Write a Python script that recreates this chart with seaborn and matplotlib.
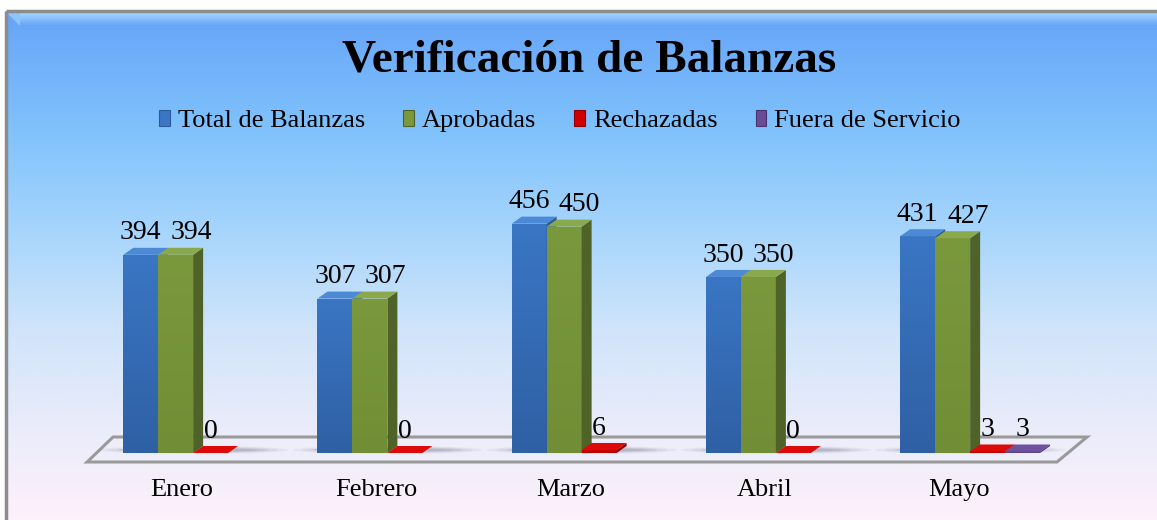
import numpy as np
import pandas as pd
import matplotlib
matplotlib.use("Agg")
import matplotlib.pyplot as plt
import seaborn as sns
from matplotlib.patches import Polygon, Rectangle, Patch, Ellipse
from matplotlib.colors import LinearSegmentedColormap

# datos del grafico
meses = ["Enero", "Febrero", "Marzo", "Abril", "Mayo"]
series = ["Total de Balanzas", "Aprobadas", "Rechazadas", "Fuera de Servicio"]
total = [394, 307, 456, 350, 431]
aprobadas = [394, 307, 450, 350, 427]
rechazadas = [0, 0, 6, 0, 3]
fuera_servicio = [None, None, None, None, 3]

# colores: cara frontal (arriba / abajo), lateral y superior
front = {"Total de Balanzas": "#3a76c4", "Aprobadas": "#7a983c",
         "Rechazadas": "#d00000", "Fuera de Servicio": "#6a4c94"}
front_low = {"Total de Balanzas": "#2f60a4", "Aprobadas": "#718e36",
             "Rechazadas": "#b80000", "Fuera de Servicio": "#5c4084"}
side = {"Total de Balanzas": "#2b5a96", "Aprobadas": "#4f6228",
        "Rechazadas": "#900000", "Fuera de Servicio": "#4a3470"}
top = {"Total de Balanzas": "#4c8ad6", "Aprobadas": "#8aa84c",
       "Rechazadas": "#dd0a0a", "Fuera de Servicio": "#6e52a0"}

SERIF = ["Liberation Serif", "DejaVu Serif"]

W, H = 1157, 520
fig = plt.figure(figsize=(W / 100, H / 100), dpi=100)
fig.patch.set_facecolor("white")

# fondo degradado con marco
bg = fig.add_axes([0, 0, 1, 1], zorder=0)
bg.set_xlim(0, W)
bg.set_ylim(H, 0)
bg.axis("off")
grad = LinearSegmentedColormap.from_list(
    "fondo",
    [(0.0, "#66a4f8"), (0.235, "#80c2fc"), (0.43, "#a6d5fc"),
     (0.625, "#d0e4fa"), (0.82, "#eaecfa"), (1.0, "#fdf1fb")])
bg.imshow(np.linspace(0, 1, 256).reshape(-1, 1), cmap=grad, aspect="auto",
          extent=(6, W, H, 11), zorder=0)
band = LinearSegmentedColormap.from_list("bisel", ["#a8d8fd", "#66a4f8"])
bg.imshow(np.linspace(0, 1, 64).reshape(-1, 1), cmap=band, aspect="auto",
          extent=(20, W, 26, 12), zorder=1)
bg.add_patch(Polygon([(6, 12), (20, 12), (20, 26)], closed=True,
                     facecolor="#8cc4fb", edgecolor="none", zorder=1))
bg.add_patch(Rectangle((6, 11), W, H, facecolor="none",
                       edgecolor="#8c8c8c", lw=2.5, zorder=2))

# eje principal (px -> fraccion de figura)
px_per_cat = 194.25
px_per_unit = 0.503
ymin, ymax = -40, 560
baseline_px = 453
ax_left = 96
ax_bottom = H - (baseline_px - ymin * px_per_unit)
ax_h = (ymax - ymin) * px_per_unit
ax = fig.add_axes([ax_left / W, ax_bottom / H, 5 * px_per_cat / W, ax_h / H], zorder=1)
ax.patch.set_alpha(0)

rows = []
for serie, vals in zip(series, [total, aprobadas, rechazadas, fuera_servicio]):
    for mes, v in zip(meses, vals):
        if v is not None:
            rows.append({"Mes": mes, "Serie": serie, "Valor": v})
df = pd.DataFrame(rows)

sns.barplot(data=df, x="Mes", y="Valor", hue="Serie", order=meses,
            hue_order=series, palette=front, saturation=1, width=0.72,
            errorbar=None, legend=False, ax=ax, zorder=3)

ax.set_xlim(-0.5, 4.5)
ax.set_ylim(ymin, ymax)

# profundidad 3D en unidades de datos
dx = 10 / px_per_cat
dy = 7 / px_per_unit

# piso
fy0, fy1 = -9 / px_per_unit, 16 / px_per_unit
floor = Polygon([(-0.546, fy0), (4.447, fy0), (4.602, fy1), (-0.412, fy1)],
                closed=True, facecolor="#eeeefa", edgecolor="#9a9a9a",
                lw=2.2, zorder=1, clip_on=False)
ax.add_patch(floor)

# sombras suaves bajo cada grupo
for i in range(len(meses)):
    for k, a in enumerate([0.05, 0.07, 0.09, 0.1]):
        ax.add_patch(Ellipse((i, 6), 0.98 - k * 0.1, 16 - k * 3,
                             facecolor="#303050", edgecolor="none", alpha=a,
                             zorder=2, clip_on=False))

label_dx = {"Total de Balanzas": 0, "Aprobadas": 11,
            "Rechazadas": 0, "Fuera de Servicio": 0}

z = 3
for serie, cont in zip(series, ax.containers):
    cmap = LinearSegmentedColormap.from_list(serie, [front[serie], front_low[serie]])
    for bar in cont:
        x, w, h = bar.get_x(), bar.get_width(), bar.get_height()
        if np.isnan(h):
            continue
        bar.set_edgecolor("none")
        bar.set_zorder(z)
        if h > 0:
            im = ax.imshow(np.linspace(0, 1, 128).reshape(-1, 1), cmap=cmap,
                           aspect="auto", extent=(x, x + w, 0, h), origin="upper",
                           zorder=z + 0.01)
            im.set_clip_path(bar)
        sd = Polygon([(x + w, 0), (x + w + dx, dy), (x + w + dx, h + dy), (x + w, h)],
                     closed=True, facecolor=side[serie], edgecolor="none",
                     zorder=z + 0.02, clip_on=False)
        tp = Polygon([(x, h), (x + w, h), (x + w + dx, h + dy), (x + dx, h + dy)],
                     closed=True, facecolor=top[serie], edgecolor="none",
                     zorder=z + 0.03, clip_on=False)
        ax.add_patch(sd)
        ax.add_patch(tp)
        ax.annotate(f"{h:.0f}", (x + w / 2, h + dy), xytext=(label_dx[serie], 6),
                    textcoords="offset points", ha="center", va="baseline",
                    fontsize=20, family=SERIF, color="black", zorder=10)
    z += 1

ax.set_xlim(-0.5, 4.5)
ax.set_ylim(ymin, ymax)
ax.set_xticks(np.arange(len(meses)) - 0.057)
ax.set_xticklabels(meses, fontsize=19, family=SERIF)
ax.tick_params(axis="x", length=0, pad=4)
ax.set_yticks([])
ax.set_xlabel("")
ax.set_ylabel("")
for s in ax.spines.values():
    s.set_visible(False)

# titulo
fig.text(589 / W, 1 - 60 / H, "Verificación de Balanzas", ha="center", va="center",
         fontsize=34, fontweight="bold", family=SERIF)

# leyenda
handles = [Patch(facecolor=front[s], edgecolor=side[s], lw=0.8, label=s) for s in series]
fig.legend(handles=handles, loc="center", bbox_to_anchor=(560 / W, 1 - 121 / H),
           ncol=4, frameon=False, prop={"family": SERIF, "size": 19},
           handlelength=0.4, handleheight=0.55, handletextpad=0.3,
           columnspacing=1.45)

fig.savefig("out.png", dpi=100)
